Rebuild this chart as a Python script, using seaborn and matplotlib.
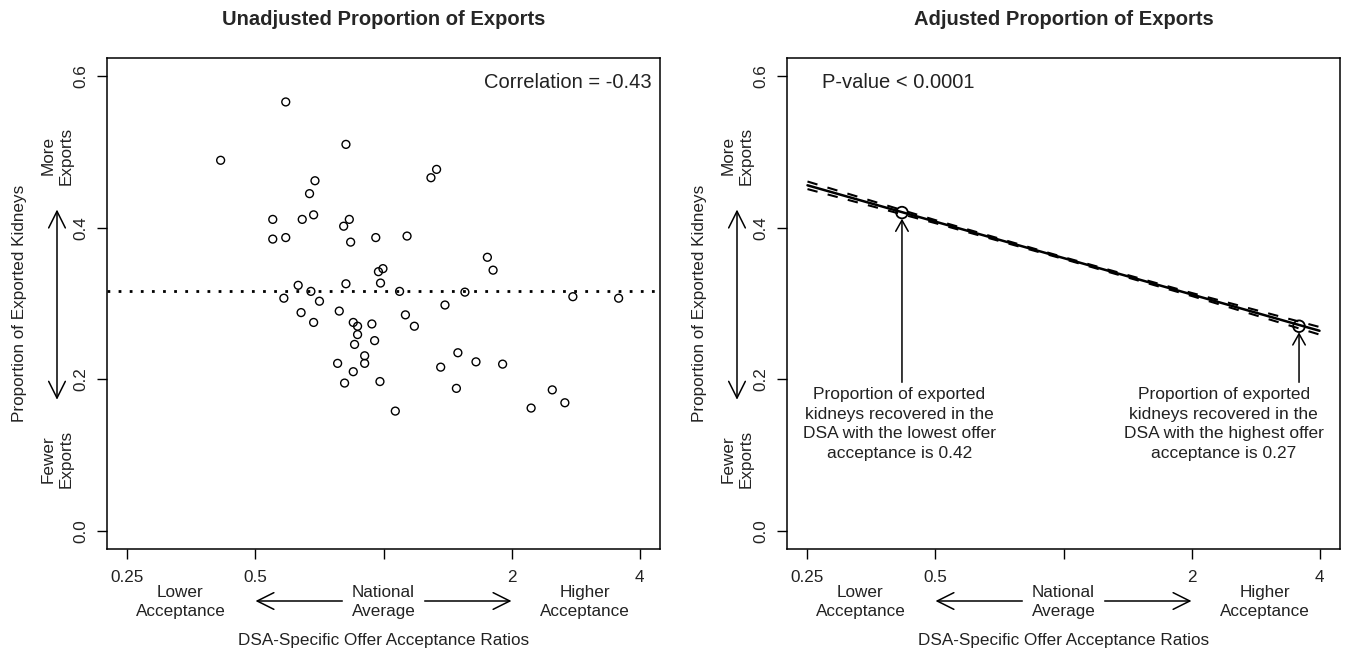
import numpy as np
import matplotlib
matplotlib.use("Agg")
import matplotlib.pyplot as plt
import seaborn as sns
from matplotlib.ticker import NullLocator
from matplotlib.transforms import blended_transform_factory

sns.set_style("white")
plt.rcParams['font.family'] = ['Liberation Sans', 'DejaVu Sans']

# DSA-specific offer acceptance ratios and unadjusted proportion exported
acc_ratio = [0.589, 0.816, 0.414, 0.690, 0.670, 0.549, 0.644, 0.685, 0.831, 0.806,
             0.549, 0.589, 0.837, 0.959, 0.997, 0.973, 0.984, 0.816, 0.630, 0.675,
             0.583, 0.707, 0.640, 0.787, 0.685, 0.849, 0.869, 0.939, 0.869, 0.855,
             0.953, 0.903, 1.333, 1.293, 1.136, 1.755, 1.810, 1.091, 1.554, 2.788,
             3.572, 1.395, 1.126, 1.182, 1.496, 0.903, 0.780, 0.849, 0.810, 0.981,
             1.066, 1.363, 1.484, 1.650, 1.906, 2.224, 2.494, 2.670]
export_prop = [0.566, 0.510, 0.489, 0.462, 0.445, 0.411, 0.411, 0.417, 0.411, 0.402,
               0.385, 0.387, 0.381, 0.387, 0.346, 0.342, 0.327, 0.326, 0.324, 0.316,
               0.307, 0.303, 0.288, 0.290, 0.275, 0.275, 0.270, 0.273, 0.259, 0.246,
               0.251, 0.231, 0.477, 0.466, 0.389, 0.361, 0.344, 0.316, 0.315, 0.309,
               0.307, 0.298, 0.285, 0.270, 0.235, 0.221, 0.221, 0.210, 0.195, 0.197,
               0.158, 0.216, 0.188, 0.223, 0.220, 0.162, 0.186, 0.169]
national_avg = 0.316

fit_ratio = [0.25, 0.5, 1, 2, 4]
fit_prop = [0.456, 0.408, 0.360, 0.312, 0.264]
fit_halfwidth = [0.005, 0.002, 0.0012, 0.002, 0.005]

low_dsa = [0.417, 0.42]
high_dsa = [3.58, 0.27]

x_ticks = [0.25, 0.5, 1, 2, 4]
x_ticklabels = ['0.25', '0.5', '', '2', '4']
y_ticks = [0.0, 0.2, 0.4, 0.6]

W, H = 1351, 658
fig = plt.figure(figsize=(W / 100, H / 100), dpi=100)
ax1 = fig.add_axes([107 / W, 1 - 549 / H, 553 / W, 491 / H])
ax2 = fig.add_axes([787 / W, 1 - 549 / H, 553 / W, 491 / H])

FS = 12.3
TXT = '#222222'
arrow_big = dict(arrowstyle='->,head_length=1.2,head_width=0.6', mutation_scale=10,
                 lw=1.1, color='black', shrinkA=0, shrinkB=0)
arrow_both = dict(arrowstyle='<->,head_length=1.2,head_width=0.6', mutation_scale=10,
                  lw=1.1, color='black', shrinkA=0, shrinkB=0)


def decorate(ax, left_px, title):
    ax.set_xscale('log', base=2)
    ax.set_xlim(0.25 / 2 ** 0.16, 4 * 2 ** 0.16)
    ax.set_ylim(-0.024, 0.624)
    ax.set_xticks(x_ticks)
    ax.set_xticklabels(x_ticklabels)
    ax.xaxis.set_minor_locator(NullLocator())
    ax.set_yticks(y_ticks)
    ax.set_yticklabels(['0.0', '0.2', '0.4', '0.6'], rotation=90, va='center')
    ax.tick_params(bottom=True, left=True, direction='out', length=7, width=1,
                   color='black', labelsize=FS, labelcolor=TXT)
    ax.tick_params(axis='x', pad=8)
    ax.tick_params(axis='y', pad=6.5)
    for s in ax.spines.values():
        s.set_color('black')
        s.set_linewidth(1.1)
    ax.set_title(title, fontweight='bold', fontsize=14.5, pad=24)

    # x-side annotations
    tx = blended_transform_factory(ax.transData, fig.transFigure)
    yrow = 1 - 602 / H
    ax.text(0.333, yrow, 'Lower\nAcceptance', transform=tx, ha='center', va='center',
            fontsize=FS, linespacing=1.35, color=TXT)
    ax.text(1, yrow, 'National\nAverage', transform=tx, ha='center', va='center',
            fontsize=FS, linespacing=1.35, color=TXT)
    ax.text(2.97, yrow, 'Higher\nAcceptance', transform=tx, ha='center', va='center',
            fontsize=FS, linespacing=1.35, color=TXT)
    ax.annotate('', xy=(0.5, 1 - 601 / H), xytext=(0.8, 1 - 601 / H), xycoords=tx,
                textcoords=tx, arrowprops=arrow_big, annotation_clip=False)
    ax.annotate('', xy=(2, 1 - 601 / H), xytext=(1.25, 1 - 601 / H), xycoords=tx,
                textcoords=tx, arrowprops=arrow_big, annotation_clip=False)
    ax.text(1, 1 - 641 / H, 'DSA-Specific Offer Acceptance Ratios', transform=tx,
            ha='center', va='center', fontsize=FS, color=TXT)

    # y-side annotations
    ty = blended_transform_factory(fig.transFigure, ax.transData)
    xo = left_px - 107
    ax.text((20 + xo) / W, 0.3, 'Proportion of Exported Kidneys', transform=ty,
            rotation=90, ha='center', va='center', fontsize=FS, color=TXT)
    ax.text((57 + xo) / W, 0.495, 'More\nExports', transform=ty, rotation=90,
            ha='center', va='center', fontsize=FS, linespacing=1.3, color=TXT)
    ax.text((57 + xo) / W, 0.095, 'Fewer\nExports', transform=ty, rotation=90,
            ha='center', va='center', fontsize=FS, linespacing=1.3, color=TXT)
    ax.annotate('', xy=((57 + xo) / W, 0.424), xytext=((57 + xo) / W, 0.173),
                xycoords=ty, textcoords=ty, arrowprops=arrow_both, annotation_clip=False)


# left panel: unadjusted
sns.scatterplot(x=acc_ratio, y=export_prop, ax=ax1, marker='o', s=32,
                facecolors='none', edgecolor='black', linewidth=1.0, zorder=3)
ax1.axhline(national_avg, color='black', lw=2.0, linestyle=(0, (1, 3)))
ax1.text(0.9855, 0.951, 'Correlation = -0.43', transform=ax1.transAxes, ha='right',
         va='center', fontsize=14.5, color=TXT)
decorate(ax1, 107, 'Unadjusted Proportion of Exports')

# right panel: adjusted
upper = [p + h for p, h in zip(fit_prop, fit_halfwidth)]
lower = [p - h for p, h in zip(fit_prop, fit_halfwidth)]
sns.lineplot(x=fit_ratio, y=fit_prop, ax=ax2, color='black', lw=1.8)
sns.lineplot(x=fit_ratio, y=upper, ax=ax2, color='black', lw=1.5,
             linestyle=(0, (5, 5)))
sns.lineplot(x=fit_ratio, y=lower, ax=ax2, color='black', lw=1.5,
             linestyle=(0, (5, 5)))
sns.scatterplot(x=[low_dsa[0], high_dsa[0]], y=[low_dsa[1], high_dsa[1]], ax=ax2,
                marker='o', s=70, facecolors='none', edgecolor='black', linewidth=1.3,
                zorder=4)
arrow_small = dict(arrowstyle='->,head_length=0.8,head_width=0.45', mutation_scale=10,
                   lw=1.1, color='black', shrinkA=0, shrinkB=0)
ax2.annotate('', xy=(low_dsa[0], 0.412), xytext=(low_dsa[0], 0.196),
             arrowprops=arrow_small)
ax2.annotate('', xy=(high_dsa[0], 0.262), xytext=(high_dsa[0], 0.196),
             arrowprops=arrow_small)
ax2.text(0.411, 0.19, 'Proportion of exported\nkidneys recovered in the\n'
         'DSA with the lowest offer\nacceptance is 0.42', ha='center', va='top',
         fontsize=12.5, linespacing=1.4, color=TXT)
ax2.text(2.38, 0.19, 'Proportion of exported\nkidneys recovered in the\n'
         'DSA with the highest offer\nacceptance is 0.27', ha='center', va='top',
         fontsize=12.5, linespacing=1.4, color=TXT)
ax2.text(0.0633, 0.951, 'P-value < 0.0001', transform=ax2.transAxes, ha='left',
         va='center', fontsize=14.5, color=TXT)
decorate(ax2, 787, 'Adjusted Proportion of Exports')

fig.savefig('out.png', dpi=100)
